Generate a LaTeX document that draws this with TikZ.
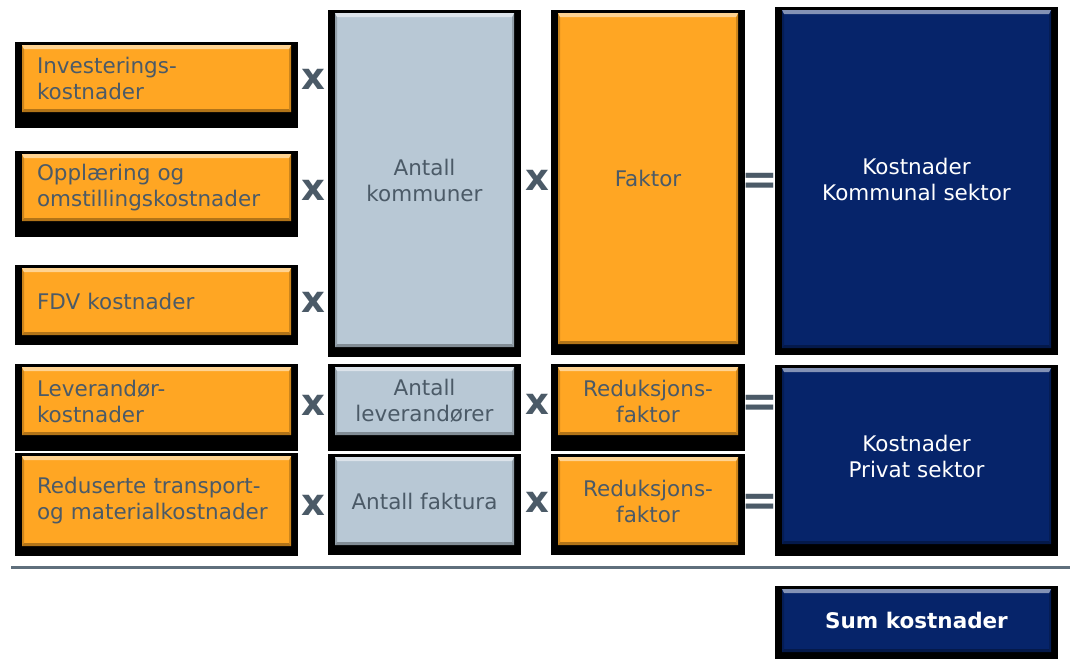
\documentclass[tikz,border=0pt]{standalone}
\usepackage{fontspec}
\setmainfont{DejaVu Sans}
\usepackage{tikz}
\usetikzlibrary{backgrounds}
\definecolor{korange}{HTML}{FFA623}
\definecolor{kgrey}{HTML}{B8C8D5}
\definecolor{knavy}{HTML}{06246A}
\definecolor{ktext}{HTML}{4B5A67}
\definecolor{kline}{HTML}{5F6F7C}

\begin{document}
\begin{tikzpicture}[
    x=1pt, y=-1pt,
    bevel/.style={path picture={
        \coordinate (bnw) at (path picture bounding box.north west);
        \coordinate (bne) at (path picture bounding box.north east);
        \coordinate (bsw) at (path picture bounding box.south west);
        \coordinate (bse) at (path picture bounding box.south east);
        \fill[#1!80!black] (bnw) -- ([shift={(2pt,-4pt)}]bnw) -- ([shift={(2pt,3pt)}]bsw) -- (bsw) -- cycle;
        \fill[#1!80!black] (bne) -- ([shift={(-2pt,-4pt)}]bne) -- ([shift={(-2pt,3pt)}]bse) -- (bse) -- cycle;
        \fill[#1!50!white] (bnw) -- (bne) -- ([shift={(-2pt,-4pt)}]bne) -- ([shift={(2pt,-4pt)}]bnw) -- cycle;
        \fill[#1!70!black] (bsw) -- (bse) -- ([shift={(-2pt,3pt)}]bse) -- ([shift={(2pt,3pt)}]bsw) -- cycle;
    }},
    box/.style={rectangle, inner sep=0pt, outer sep=0pt, anchor=north west,
                font=\fontsize{21.5pt}{26pt}\selectfont},
    obox/.style={box, fill=korange, text=ktext, bevel=korange},
    lbox/.style={obox, text width=239pt, align=left,
                 minimum width=269pt},
    gbox/.style={box, fill=kgrey, text=ktext, align=center, bevel=kgrey},
    bbox/.style={box, fill=knavy, text=white, align=center, bevel=knavy},
    op/.style={text=ktext, inner sep=0pt, font=\fontsize{37pt}{37pt}\selectfont\bfseries},
    eq/.style={op, font=\fontsize{44pt}{44pt}\selectfont\bfseries}
]
    \useasboundingbox (0,0) rectangle (1070,659);

    % left column
    \node[lbox, minimum height=67pt] (inv) at (22,45) {Investerings-\\kostnader};
    \node[lbox, minimum height=67pt] (opp) at (22,154) {Opplæring og\\omstillingskostnader};
    \node[lbox, minimum height=67pt] (fdv) at (22,268) {FDV kostnader};
    \node[lbox, minimum height=68pt] (lev) at (22,367) {Leverandør-\\kostnader};
    \node[lbox, minimum height=90pt] (red) at (22,456) {Reduserte transport-\\og materialkostnader};

    % middle columns
    \node[gbox, minimum width=179pt, minimum height=334pt] (kom) at (335,13) {Antall\\kommuner};
    \node[gbox, minimum width=179pt, minimum height=68pt] (alev) at (335,367) {Antall\\leverandører};
    \node[gbox, minimum width=179pt, minimum height=88pt] (afak) at (335,457) {Antall faktura};
    \node[obox, align=center, minimum width=180pt, minimum height=331pt] (fak) at (558,13) {Faktor};
    \node[obox, align=center, minimum width=180pt, minimum height=68pt] (red1) at (558,367) {Reduksjons-\\faktor};
    \node[obox, align=center, minimum width=180pt, minimum height=88pt] (red2) at (558,457) {Reduksjons-\\faktor};

    % results
    \node[bbox, minimum width=269pt, minimum height=338pt] (kks) at (782,10) {Kostnader\\Kommunal sektor};
    \node[bbox, minimum width=269pt, minimum height=176pt] (kps) at (782,368) {Kostnader\\Privat sektor};
    \node[bbox, minimum width=269pt, minimum height=63pt] (sum) at (782,589) {\textbf{Sum kostnader}};

    % operators
    \node[op] (x1) at (313,79) {x};
    \node[op] (x2) at (313,190) {x};
    \node[op] (x3) at (313,302) {x};
    \node[op] (x4) at (313,405) {x};
    \node[op] (x5) at (313,505) {x};
    \node[op] (x6) at (537,180) {x};
    \node[op] (x7) at (537,404) {x};
    \node[op] (x8) at (537,502) {x};
    \node[eq] (eq1) at (760,184) {=};
    \node[eq] (eq2) at (760,406) {=};
    \node[eq] (eq3) at (760,505) {=};

    % divider
    \draw[kline, line width=3pt] (11,567) -- (1070,567);

    % black frames
    \begin{scope}[on background layer]
        \foreach \n/\b in {inv/16, opp/16, fdv/10, lev/16, red/10, kom/10, fak/11, kks/7,
                           alev/16, afak/10, red1/16, red2/10, kps/12, sum/7}
            \fill[black] ([shift={(-7pt,3pt)}]\n.north west) rectangle ([shift={(7pt,-\b pt)}]\n.south east);
    \end{scope}
\end{tikzpicture}
\end{document}
